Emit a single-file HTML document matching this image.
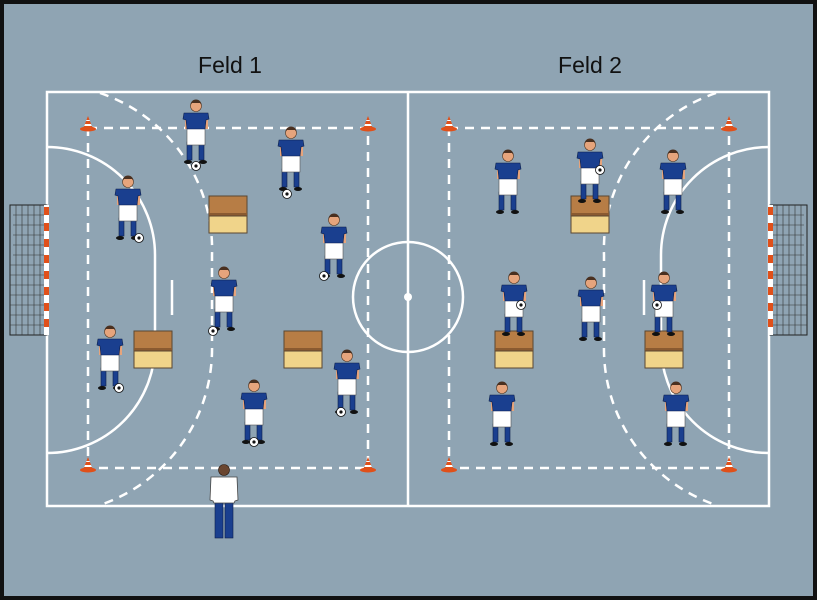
<!DOCTYPE html>
<html><head><meta charset="utf-8"><style>
html,body{margin:0;padding:0;background:#111;}
svg{display:block;}
</style></head><body>
<svg width="817" height="600" viewBox="0 0 817 600" xmlns="http://www.w3.org/2000/svg">
<defs>
<g id="p">
  <!-- origin at head center -->
  <rect x="-9" y="36" width="5" height="18" fill="#1a3f8f" stroke="#0d1f4a" stroke-width="0.6"/>
  <rect x="3" y="36" width="5" height="18" fill="#1a3f8f" stroke="#0d1f4a" stroke-width="0.6"/>
  <ellipse cx="-8" cy="56" rx="4" ry="2" fill="#111"/>
  <ellipse cx="7" cy="56" rx="4" ry="2" fill="#111"/>
  <rect x="-11" y="8" width="3" height="15" fill="#e6a47c"/>
  <rect x="9" y="8" width="3" height="15" fill="#e6a47c"/>
  <rect x="-9" y="22" width="18" height="17" fill="#fff" stroke="#555" stroke-width="0.6"/>
  <path d="M-12 7 L12 7 L13 13 L10 14 L9 23 L-9 23 L-10 14 L-13 13 Z" fill="#1a3f8f" stroke="#0d1f4a" stroke-width="0.6"/>
  <circle cx="0" cy="0" r="5.5" fill="#e6a47c" stroke="#5a3a22" stroke-width="0.6"/>
  <path d="M-5.5 -1 A5.5 5.5 0 0 1 5.5 -1 L4 -3 L-4 -3 Z" fill="#4a3020"/>
</g>
<g id="b">
  <circle r="4.5" fill="#fff" stroke="#111" stroke-width="0.8"/>
  <circle r="1.6" fill="#111"/>
</g>
<g id="c">
  <ellipse cx="0" cy="4" rx="8" ry="2.5" fill="#e0501a"/>
  <path d="M-5 4 L0 -9 L5 4 Z" fill="#e0501a"/>
  <path d="M-3 -1 L3 -1 L3.8 1 L-3.8 1 Z" fill="#fff"/>
  <path d="M-1.5 -5 L1.5 -5 L2 -4 L-2 -4 Z" fill="#fff"/>
</g>
<g id="box">
  <rect x="0" y="0" width="38" height="20" fill="#b77d45" stroke="#5a4632" stroke-width="1"/>
  <rect x="0" y="17" width="38" height="3" fill="#8a5a30"/>
  <rect x="0" y="20" width="38" height="17" fill="#f0d48a" stroke="#5a4632" stroke-width="1"/>
</g>
<g id="net">
  <rect x="0" y="0" width="37" height="130" fill="none" stroke="#222" stroke-width="1"/>
  <path d="M3 10 H37 M3 20 H37 M3 30 H37 M3 40 H37 M3 50 H37 M0 60 H37 M0 70 H37 M0 80 H37 M0 90 H37 M0 100 H37 M0 110 H37 M0 120 H37 M6 0 V130 M12 0 V130 M18 0 V130 M24 0 V130 M30 0 V130" stroke="#333" stroke-width="0.6" fill="none"/>
</g>
</defs>
<rect x="0" y="0" width="817" height="600" fill="#111"/>
<rect x="4" y="4" width="809" height="592" fill="#8fa4b3"/>
<text x="230" y="73" font-family="Liberation Sans, sans-serif" font-size="23" text-anchor="middle" fill="#111">Feld 1</text>
<text x="590" y="73" font-family="Liberation Sans, sans-serif" font-size="23" text-anchor="middle" fill="#111">Feld 2</text>

<g stroke="#fff" stroke-width="2.5" fill="none">
  <rect x="47" y="92" width="722" height="414"/>
  <line x1="408" y1="92" x2="408" y2="506"/>
  <circle cx="408" cy="297" r="55"/>
  <path d="M47 147 A108 108 0 0 1 155 255 L155 345 A108 108 0 0 1 47 453"/>
  <path d="M769 147 A108 108 0 0 0 661 255 L661 345 A108 108 0 0 0 769 453"/>
  <line x1="172" y1="280" x2="172" y2="315"/>
  <line x1="644" y1="280" x2="644" y2="315"/>
</g>
<circle cx="408" cy="297" r="4" fill="#fff"/>
<g stroke="#fff" stroke-width="2.5" fill="none" stroke-dasharray="9 7">
  <path d="M100 93 A165 165 0 0 1 212 255 L212 345 A165 165 0 0 1 100 505"/>
  <path d="M716 93 A165 165 0 0 0 604 255 L604 345 A165 165 0 0 0 716 505"/>
  <rect x="88" y="128" width="280" height="340"/>
  <rect x="449" y="128" width="280" height="340"/>
</g>

<use href="#net" x="10" y="205"/>
<use href="#net" transform="translate(807,205) scale(-1,1)"/>
<g>
  <rect x="44" y="205" width="5" height="130" fill="#fff"/>
  <rect x="768" y="205" width="5" height="130" fill="#fff"/>
  <g fill="#e0501a">
    <rect x="44" y="207" width="5" height="8"/><rect x="44" y="223" width="5" height="8"/><rect x="44" y="239" width="5" height="8"/><rect x="44" y="255" width="5" height="8"/><rect x="44" y="271" width="5" height="8"/><rect x="44" y="287" width="5" height="8"/><rect x="44" y="303" width="5" height="8"/><rect x="44" y="319" width="5" height="8"/>
    <rect x="768" y="207" width="5" height="8"/><rect x="768" y="223" width="5" height="8"/><rect x="768" y="239" width="5" height="8"/><rect x="768" y="255" width="5" height="8"/><rect x="768" y="271" width="5" height="8"/><rect x="768" y="287" width="5" height="8"/><rect x="768" y="303" width="5" height="8"/><rect x="768" y="319" width="5" height="8"/>
  </g>
</g>

<use href="#c" x="88" y="125"/><use href="#c" x="368" y="125"/>
<use href="#c" x="88" y="466"/><use href="#c" x="368" y="466"/>
<use href="#c" x="449" y="125"/><use href="#c" x="729" y="125"/>
<use href="#c" x="449" y="466"/><use href="#c" x="729" y="466"/>

<use href="#box" x="209" y="196"/>
<use href="#box" x="134" y="331"/>
<use href="#box" x="284" y="331"/>
<use href="#box" x="571" y="196"/>
<use href="#box" x="495" y="331"/>
<use href="#box" x="645" y="331"/>

<!-- Feld 1 players -->
<use href="#p" x="196" y="106"/><use href="#b" x="196" y="166"/>
<use href="#p" x="291" y="133"/><use href="#b" x="287" y="194"/>
<use href="#p" x="128" y="182"/><use href="#b" x="139" y="238"/>
<use href="#p" x="334" y="220"/><use href="#b" x="324" y="276"/>
<use href="#p" x="224" y="273"/><use href="#b" x="213" y="331"/>
<use href="#p" x="110" y="332"/><use href="#b" x="119" y="388"/>
<use href="#p" x="254" y="386"/><use href="#b" x="254" y="442"/>
<use href="#p" x="347" y="356"/><use href="#b" x="341" y="412"/>

<!-- coach -->
<g transform="translate(224,470)">
  <rect x="-9" y="32" width="8" height="36" fill="#1a3f8f" stroke="#0d1f4a" stroke-width="0.6"/>
  <rect x="1" y="32" width="8" height="36" fill="#1a3f8f" stroke="#0d1f4a" stroke-width="0.6"/>
  <path d="M-13 7 L13 7 L14 30 L11 31 L10 33 L-10 33 L-11 31 L-14 30 Z" fill="#fff" stroke="#444" stroke-width="0.8"/>
  <circle cx="0" cy="0" r="5.5" fill="#6a4630" stroke="#2a1a10" stroke-width="0.6"/>
</g>

<!-- Feld 2 players -->
<use href="#p" x="508" y="156"/>
<use href="#p" x="590" y="145"/><use href="#b" x="600" y="170"/>
<use href="#p" x="673" y="156"/>
<use href="#p" x="514" y="278"/><use href="#b" x="521" y="305"/>
<use href="#p" x="591" y="283"/>
<use href="#p" x="664" y="278"/><use href="#b" x="657" y="305"/>
<use href="#p" x="502" y="388"/>
<use href="#p" x="676" y="388"/>
</svg>
</body></html>
